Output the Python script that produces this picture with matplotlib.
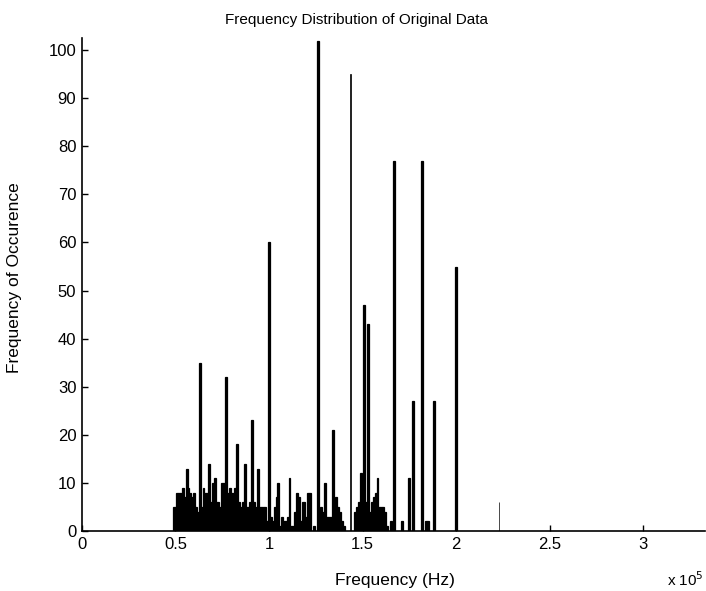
import matplotlib
matplotlib.use('Agg')
import matplotlib.pyplot as plt

plt.rcParams['font.family'] = ['Liberation Sans', 'DejaVu Sans']

# bin centre in kHz and number of occurences
freqs_khz = [49, 50, 51, 52, 53, 54, 55, 56, 57, 58, 59, 60, 61, 62, 63, 64,
             65, 66, 67, 68, 69, 70, 71, 72, 73, 74, 75, 76, 77, 78, 79, 80,
             81, 82, 83, 84, 85, 86, 87, 88, 89, 90, 91, 92, 93, 94, 95, 96,
             97, 98, 99, 100, 101, 102, 103, 104, 105, 106, 107, 108, 109, 110,
             111, 112, 113, 114, 115, 116, 117, 118, 119, 120, 121, 122, 124,
             126, 127, 128, 129, 130, 131, 132, 133, 134, 135, 136, 137, 138,
             139, 140, 146, 147, 148, 149, 150, 151, 152, 153, 154, 155, 156,
             157, 158, 159, 160, 161, 162, 163, 165, 167, 171, 175, 177, 182,
             184, 185, 188, 200]
counts = [5, 5, 8, 8, 8, 9, 7, 13, 9, 8, 7, 8, 5, 4, 35, 5,
          9, 8, 8, 14, 6, 10, 11, 6, 6, 5, 10, 10, 32, 8, 9, 8,
          8, 9, 18, 6, 5, 6, 14, 5, 5, 6, 23, 6, 5, 13, 5, 5,
          5, 5, 2, 60, 3, 2, 5, 7, 10, 1, 3, 2, 2, 3,
          11, 1, 1, 4, 8, 7, 2, 6, 6, 3, 8, 8, 1,
          102, 2, 5, 4, 10, 3, 3, 3, 21, 3, 7, 5, 4,
          2, 1, 4, 5, 6, 12, 5, 47, 6, 43, 4, 6, 7,
          8, 11, 5, 5, 5, 4, 1, 2, 77, 2, 11, 27, 77,
          2, 2, 27, 55]

# the two hairline spikes
thin_freqs_khz = [143.5, 223]
thin_counts = [95, 6]

xtick_vals = [0, 0.5, 1, 1.5, 2, 2.5, 3]
xtick_labels = ['0', '0.5', '1', '1.5', '2', '2.5', '3']
ytick_vals = list(range(0, 101, 10))


def run():
    fig = plt.figure(figsize=(7.06, 5.91), dpi=100)
    ax = fig.add_axes([0.116, 0.1015, 0.8824, 0.834])

    x = [f * 1000 for f in freqs_khz]
    ax.bar(x, counts, width=1000, color='k', edgecolor='k', linewidth=0.9)
    xt = [f * 1000 for f in thin_freqs_khz]
    ax.bar(xt, thin_counts, width=400, color='k', edgecolor='k', linewidth=0.5)

    ax.set_xlim(0, 3.33e5)
    ax.set_ylim(0, 102.5)
    ax.set_xticks([v * 1e5 for v in xtick_vals])
    ax.set_xticklabels(xtick_labels)
    ax.set_yticks(ytick_vals)
    ax.tick_params(direction='in', length=4, width=1, labelsize=12, pad=4)

    for s in ['top', 'right']:
        ax.spines[s].set_visible(False)
    for s in ['left', 'bottom']:
        ax.spines[s].set_linewidth(1.2)

    ax.set_xlabel('Frequency (Hz)', fontsize=12.5)
    ax.xaxis.set_label_coords(0.502, -0.085)
    ax.set_ylabel('Frequency of Occurence', fontsize=12.5)
    ax.yaxis.set_label_coords(-0.096, 0.515)
    ax.set_title('Frequency Distribution of Original Data', fontsize=11, x=0.441, pad=10)
    ax.text(0.968, -0.099, r'x 10$^5$', transform=ax.transAxes,
            ha='center', va='center', fontsize=11)

    fig.savefig('out.png', dpi=100)


if __name__ == "__main__":
    run()
